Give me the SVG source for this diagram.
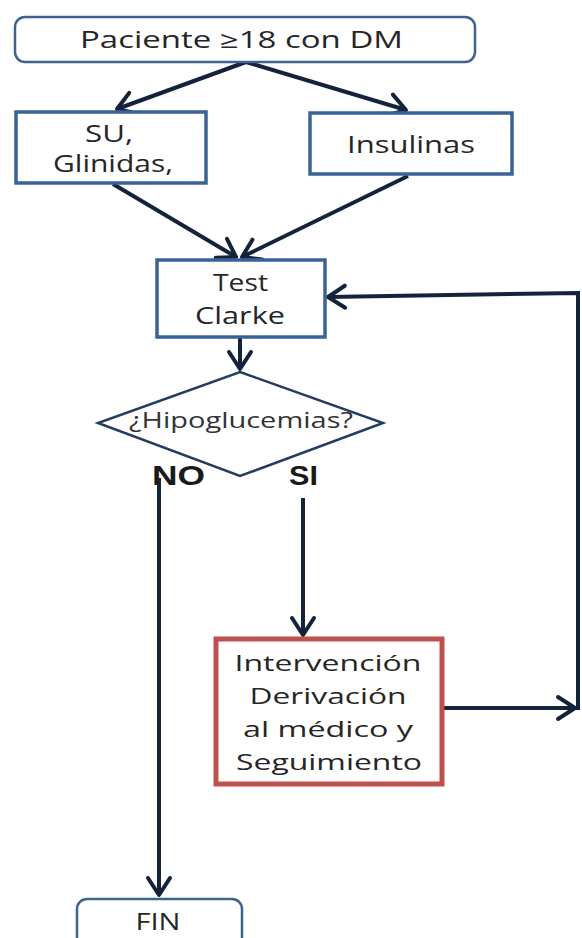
<svg xmlns="http://www.w3.org/2000/svg" width="582" height="938" viewBox="0 0 582 938">
<defs>
<style>
.bx{fill:#fff;stroke:#3b6297;stroke-width:3.5}
.rb{fill:#fff;stroke:#41628f;stroke-width:2.5}
.dm{fill:#fff;stroke:#223d62;stroke-width:2.5}
.red{fill:#fff;stroke:#c0504d;stroke-width:5}
.t{font-family:"Open Sans","Liberation Sans",sans-serif;font-size:23px;fill:#262626;text-anchor:middle}
.b{font-family:"Liberation Sans","Open Sans",sans-serif;font-size:28px;font-weight:bold;fill:#1a1a1a;text-anchor:middle}
.c{fill:none;stroke:#14233c;stroke-width:4}
</style>
<marker id="ah" viewBox="-20 -14 24 28" markerWidth="24" markerHeight="28" refX="0" refY="0" markerUnits="userSpaceOnUse" orient="auto" overflow="visible">
<path d="M-17,-11 L0,0 L-17,11" fill="none" stroke="#14233c" stroke-width="4" stroke-linejoin="round" stroke-linecap="round"/>
</marker>
</defs>
<rect width="582" height="938" fill="#fff"/>
<g id="connectors">
<path class="c" d="M246,62 L117,109" marker-end="url(#ah)"/>
<path class="c" d="M246,62 L406,110" marker-end="url(#ah)"/>
<path class="c" d="M113,184 L236,257" marker-end="url(#ah)"/>
<path class="c" d="M408,176 L242,257" marker-end="url(#ah)"/>
<path class="c" d="M240,338 L240,369" marker-end="url(#ah)"/>
<path class="c" d="M159,478 L159,895" marker-end="url(#ah)"/>
<path class="c" d="M303,498 L303,635" marker-end="url(#ah)"/>
<path class="c" d="M443,708 L575,708" marker-end="url(#ah)"/>
<path class="c" d="M578,710 L578,293 L328,297" marker-end="url(#ah)" stroke="#0d1626"/>
</g>
<g id="n-paciente">
<rect class="rb" x="15" y="17" width="460" height="45" rx="10"/>
<text class="t" x="241.5" y="48" textLength="323" lengthAdjust="spacingAndGlyphs">Paciente ≥18 con DM</text>
</g>
<g id="n-su">
<rect class="bx" x="16" y="112" width="190" height="71"/>
<text class="t" x="109" y="142" textLength="48" lengthAdjust="spacingAndGlyphs">SU,</text>
<text class="t" x="113" y="172" textLength="120" lengthAdjust="spacingAndGlyphs">Glinidas,</text>
</g>
<g id="n-insulinas">
<rect class="bx" x="310" y="113" width="202" height="61"/>
<text class="t" x="411" y="153" textLength="128" lengthAdjust="spacingAndGlyphs">Insulinas</text>
</g>
<g id="n-test">
<rect class="bx" x="157" y="260" width="168" height="77"/>
<text class="t" x="240.5" y="291" textLength="55" lengthAdjust="spacingAndGlyphs">Test</text>
<text class="t" x="240" y="324" textLength="90" lengthAdjust="spacingAndGlyphs">Clarke</text>
</g>
<g id="n-hipo">
<polygon class="dm" points="240,372 383,423 240,476 98,423"/>
<text class="t" x="241" y="428" style="font-size:22px;fill:#333" textLength="224" lengthAdjust="spacingAndGlyphs">¿Hipoglucemias?</text>
</g>
<g id="labels">
<text class="b" x="178.5" y="485" textLength="53" lengthAdjust="spacingAndGlyphs">NO</text>
<text class="b" x="303.5" y="485" textLength="29" lengthAdjust="spacingAndGlyphs">SI</text>
</g>
<g id="n-intervencion">
<rect class="red" x="216" y="639" width="226" height="145"/>
<text class="t" x="328" y="671" style="font-size:22px" textLength="187" lengthAdjust="spacingAndGlyphs">Intervención</text>
<text class="t" x="328" y="704" style="font-size:22px" textLength="157" lengthAdjust="spacingAndGlyphs">Derivación</text>
<text class="t" x="328" y="737" style="font-size:22px" textLength="170" lengthAdjust="spacingAndGlyphs">al médico y</text>
<text class="t" x="329" y="770" style="font-size:22px" textLength="186" lengthAdjust="spacingAndGlyphs">Seguimiento</text>
</g>
<g id="n-fin">
<rect class="rb" x="77" y="899" width="165" height="60" rx="10"/>
<text class="t" x="158" y="930" textLength="45" lengthAdjust="spacingAndGlyphs">FIN</text>
</g>
</svg>
